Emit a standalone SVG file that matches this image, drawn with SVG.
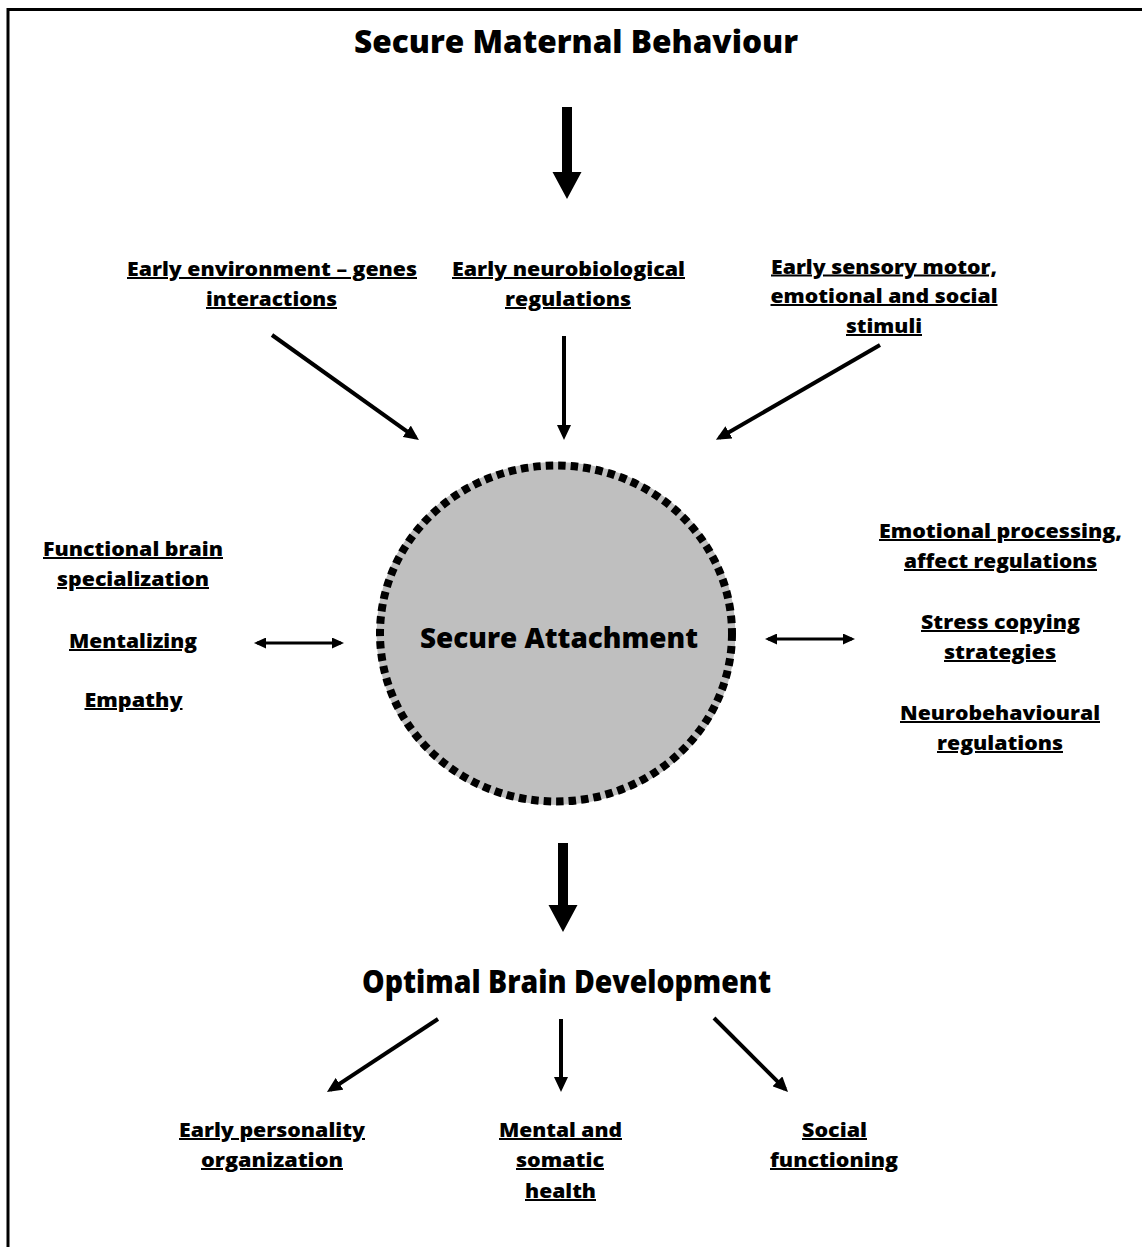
<svg xmlns="http://www.w3.org/2000/svg" width="1142" height="1247" viewBox="0 0 1142 1247">
<style>
  text { font-family: "Open Sans", "Noto Sans", sans-serif; font-weight: 800; fill: #000; text-anchor: middle; }
  .lbl { font-size: 20px; text-decoration: underline; }
  .big { font-size: 31px; }
  .mid { font-size: 29px; }
  .thin { stroke: #000; stroke-width: 4; fill: none; }
  .dbl { stroke: #000; stroke-width: 3; fill: none; }
</style>
<defs>
  <marker id="ah" markerUnits="userSpaceOnUse" markerWidth="15" markerHeight="14" viewBox="0 0 15 14" refX="11" refY="7" orient="auto">
    <path d="M0,0 L15,7 L0,14 Z" fill="#000"/>
  </marker>
  <marker id="ahs" markerUnits="userSpaceOnUse" markerWidth="12" markerHeight="11" viewBox="0 0 12 11" refX="9" refY="5.5" orient="auto-start-reverse">
    <path d="M0,0 L12,5.5 L0,11 Z" fill="#000"/>
  </marker>
</defs>
<rect width="1142" height="1247" fill="#fff"/>
<path d="M8,1247 L8,9.5 L1142,9.5" fill="none" stroke="#000" stroke-width="3"/>

<g id="title">
  <text class="big" x="576" y="53" textLength="444" lengthAdjust="spacingAndGlyphs">Secure Maternal Behaviour</text>
</g>

<g id="n-env">
  <text class="lbl" x="272" y="276" textLength="290" lengthAdjust="spacingAndGlyphs">Early environment – genes</text>
  <text class="lbl" x="271.5" y="306" textLength="131" lengthAdjust="spacingAndGlyphs">interactions</text>
</g>
<g id="n-neuro">
  <text class="lbl" x="568.5" y="276" textLength="233" lengthAdjust="spacingAndGlyphs">Early neurobiological</text>
  <text class="lbl" x="568" y="306" textLength="126" lengthAdjust="spacingAndGlyphs">regulations</text>
</g>
<g id="n-sensory">
  <text class="lbl" x="884" y="273.5" textLength="226" lengthAdjust="spacingAndGlyphs">Early sensory motor,</text>
  <text class="lbl" x="884" y="303" textLength="227" lengthAdjust="spacingAndGlyphs">emotional and social</text>
  <text class="lbl" x="884" y="333" textLength="76" lengthAdjust="spacingAndGlyphs">stimuli</text>
</g>

<g id="n-attachment">
  <ellipse cx="556" cy="633.5" rx="176" ry="168" fill="#bfbfbf" stroke="#bfbfbf" stroke-width="7"/>
  <ellipse cx="556" cy="633.5" rx="176" ry="168" fill="none" stroke="#000" stroke-width="8" stroke-dasharray="7.5 5"/>
  <text class="mid" x="559" y="648" textLength="278" lengthAdjust="spacingAndGlyphs">Secure Attachment</text>
</g>

<g id="n-left">
  <text class="lbl" x="133" y="556" textLength="180" lengthAdjust="spacingAndGlyphs">Functional brain</text>
  <text class="lbl" x="133" y="586" textLength="152" lengthAdjust="spacingAndGlyphs">specialization</text>
  <text class="lbl" x="133" y="648" textLength="128" lengthAdjust="spacingAndGlyphs">Mentalizing</text>
  <text class="lbl" x="133.5" y="707" textLength="98" lengthAdjust="spacingAndGlyphs">Empathy</text>
</g>

<g id="n-right">
  <text class="lbl" x="1000.5" y="538" textLength="243" lengthAdjust="spacingAndGlyphs">Emotional processing,</text>
  <text class="lbl" x="1000.5" y="568" textLength="193" lengthAdjust="spacingAndGlyphs">affect regulations</text>
  <text class="lbl" x="1000.5" y="629" textLength="159" lengthAdjust="spacingAndGlyphs">Stress copying</text>
  <text class="lbl" x="1000" y="659" textLength="112" lengthAdjust="spacingAndGlyphs">strategies</text>
  <text class="lbl" x="1000" y="720" textLength="200" lengthAdjust="spacingAndGlyphs">Neurobehavioural</text>
  <text class="lbl" x="1000" y="750" textLength="126" lengthAdjust="spacingAndGlyphs">regulations</text>
</g>

<g id="n-optimal">
  <text class="big" x="566.5" y="993" textLength="409" lengthAdjust="spacingAndGlyphs">Optimal Brain Development</text>
</g>

<g id="n-personality">
  <text class="lbl" x="272" y="1137" textLength="186" lengthAdjust="spacingAndGlyphs">Early personality</text>
  <text class="lbl" x="272" y="1167" textLength="142" lengthAdjust="spacingAndGlyphs">organization</text>
</g>
<g id="n-health">
  <text class="lbl" x="560.5" y="1137" textLength="123" lengthAdjust="spacingAndGlyphs">Mental and</text>
  <text class="lbl" x="560" y="1167" textLength="88" lengthAdjust="spacingAndGlyphs">somatic</text>
  <text class="lbl" x="560.5" y="1198" textLength="71" lengthAdjust="spacingAndGlyphs">health</text>
</g>
<g id="n-social">
  <text class="lbl" x="834.5" y="1137" textLength="65" lengthAdjust="spacingAndGlyphs">Social</text>
  <text class="lbl" x="834" y="1167" textLength="128" lengthAdjust="spacingAndGlyphs">functioning</text>
</g>

<g id="connectors">
  <path d="M562,107 L572,107 L572,172 L581.5,172 L567,199 L552.5,172 L562,172 Z" fill="#000"/>
  <line class="thin" x1="272" y1="335" x2="415.7" y2="437.7" marker-end="url(#ah)"/>
  <line class="thin" x1="564" y1="336" x2="564" y2="436" marker-end="url(#ah)"/>
  <line class="thin" x1="880" y1="345" x2="719.4" y2="437.8" marker-end="url(#ah)"/>
  <line class="dbl" x1="257" y1="643" x2="341" y2="643" marker-start="url(#ahs)" marker-end="url(#ahs)"/>
  <line class="dbl" x1="768" y1="639" x2="852" y2="639" marker-start="url(#ahs)" marker-end="url(#ahs)"/>
  <path d="M558,843 L568,843 L568,905 L577.5,905 L563,932 L548.5,905 L558,905 Z" fill="#000"/>
  <line class="thin" x1="438" y1="1019" x2="330.3" y2="1089.8" marker-end="url(#ah)"/>
  <line class="thin" x1="561" y1="1019" x2="561" y2="1088" marker-end="url(#ah)"/>
  <line class="thin" x1="714" y1="1018" x2="785.2" y2="1089.2" marker-end="url(#ah)"/>
</g>
</svg>
